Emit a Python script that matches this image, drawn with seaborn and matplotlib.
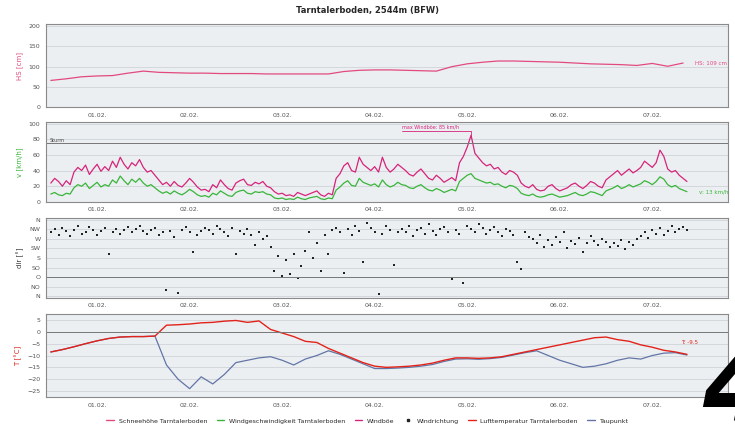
import pandas as pd
import matplotlib
matplotlib.use("Agg")
import matplotlib.pyplot as plt
import matplotlib.dates as mdates
from matplotlib.lines import Line2D
import seaborn as sns

# --- data ---
title = "Tarntalerboden, 2544m (BFW)"
x_start, x_end = "2013-01-31 10:45", "2013-02-07 19:40"

snow_start = "2013-01-31 12:00"   # every 4 h
snow_cm = [66, 70, 75, 77, 78, 84, 89, 86, 85, 84, 84, 83, 83, 83, 82, 82, 82, 82, 82, 88,
           91, 92, 92, 91, 90, 89, 100, 107, 111, 114, 114, 113, 112, 111, 109, 107, 106,
           105, 103, 108, 101, 109]

wind_start = "2013-01-31 12:00"   # hourly
gust_kmh = [24, 30, 26, 20, 27, 22,
            38, 44, 40, 47, 35, 42, 48, 39, 45, 40,
            52, 44, 57, 48, 42, 50, 46, 54,
            44, 38, 40, 34,
            28, 22, 25, 20, 26, 21, 19, 24, 30, 25,
            19, 15, 16, 13, 22, 18, 28, 22, 17, 15,
            24, 27, 29, 22, 21, 25, 23, 26, 20, 18,
            13, 10, 11, 8, 9, 7, 12, 10, 8, 10, 12, 14, 9, 7, 11, 9,
            30, 36, 46, 50, 40, 38, 57, 48, 44, 40,
            45, 38, 57, 44, 38, 42, 48, 44,
            40, 35, 33, 38, 42, 36, 30, 28,
            34, 30, 25, 28, 31, 27, 50, 58,
            70, 85, 62, 56, 50, 46,
            48, 42, 44, 38, 35, 40, 38, 34,
            24, 20, 18, 22, 16, 14, 15, 20, 22, 17, 14, 16,
            18, 22, 24, 20, 17, 21, 26, 24, 20, 18,
            28, 32, 36, 40, 34, 38, 42, 37, 40, 44,
            52, 48, 44, 50, 66, 58,
            42, 38, 40, 34, 30, 26]
wind_kmh = [10, 12, 9, 8, 11, 10,
            18, 22, 20, 24, 17, 21, 25, 19, 22, 20,
            28, 24, 33, 27, 22, 29, 25, 30,
            24, 20, 22, 18,
            14, 11, 13, 10, 14, 11, 9, 12, 16, 13,
            9, 7, 8, 6, 11, 9, 14, 11, 8, 7,
            12, 14, 15, 11, 10, 13, 12, 13, 10, 9,
            5, 4, 5, 3, 4, 3, 6, 4, 3, 5, 6, 7, 4, 3, 5, 4,
            15, 19, 24, 27, 21, 20, 30, 25, 23, 21,
            23, 19, 28, 22, 19, 21, 25, 22,
            21, 18, 17, 20, 22, 18, 15, 14,
            17, 15, 12, 14, 16, 14, 26, 30,
            34, 36, 30, 28, 26, 24,
            25, 22, 23, 20, 18, 21, 20, 17,
            11, 9, 8, 10, 7, 6, 7, 9, 10, 8, 6, 7,
            8, 10, 12, 9, 8, 10, 13, 12, 10, 8,
            14, 16, 18, 21, 17, 19, 22, 19, 21, 23,
            27, 25, 22, 26, 32, 29,
            22, 19, 21, 17, 15, 13]
dir_deg = [300, 315, 290, 320, 305, 285, 310, 330, 295, 300, 325, 310, 290, 305, 320, 200, 300, 315, 295, 310, 325,
           300, 315, 330, 305, 295, 310, 320, 290, 300, 30, 305, 280, 15, 310, 325, 300, 210, 290, 305, 320,
           310, 295, 330, 315, 300, 285, 320, 200, 305, 295, 315, 290, 240, 300, 270, 285, 230,
           120, 190, 95, 170, 105, 200, 85, 140, 215, 300, 180, 250, 120, 290, 200, 310,
           320, 300, 110, 315, 290, 330, 305, 160, 345, 320, 300, 10, 295, 330, 310, 145, 300,
           315, 300, 330, 285, 310, 320, 295, 340, 305, 290, 315, 325, 300, 80, 310, 295, 60,
           330, 315, 300, 340, 320, 295, 310, 325, 300, 285, 315, 305, 290, 160, 130, 300, 280,
           270, 250, 290, 230, 265, 240, 280, 255, 300, 225, 260, 245, 275, 210, 250, 285, 260, 240, 270, 255, 230,
           250, 235, 265, 220, 255, 240, 270, 285, 300, 275, 310, 295, 320, 290, 305, 330, 300, 315, 325, 310]
dir_labels = ["N", "NO", "O", "SO", "S", "SW", "W", "NW", "N"]

temp_start = "2013-01-31 12:00"   # every 3 h
air_temp = [-8.5, -7.5, -6.3, -5.0, -3.8, -2.8, -2.2, -2.0, -2.0, -1.8,
            2.8, 3.0, 3.3, 3.8, 4.0, 4.5, 4.8, 4.0, 4.6, 1.0,
            -0.5, -2.0, -4.0, -4.5, -7.0, -9.0, -11.0, -13.0, -14.5, -15.0,
            -14.8, -14.5, -14.0, -13.2, -12.0, -11.0, -11.0, -11.2, -11.0, -10.5,
            -9.5, -8.5, -7.5, -6.5, -5.5, -4.5, -3.5, -2.5, -2.2, -3.3,
            -4.0, -5.5, -6.5, -7.8, -8.5, -9.5]
dew_point = [-8.5, -7.5, -6.3, -5.0, -3.8, -2.8, -2.2, -2.0, -2.0, -1.8,
             -14.0, -20.0, -24.0, -19.0, -22.0, -18.0, -13.0, -12.0, -11.0, -10.5,
             -12.0, -14.0, -11.5, -10.0, -8.0, -9.5, -11.5, -13.5, -15.5, -15.5,
             -15.3, -15.0, -14.5, -13.8, -12.5, -11.5, -11.4, -11.6, -11.3, -10.8,
             -9.8, -8.8, -8.0, -10.0, -12.0, -13.5, -15.0, -14.5, -13.5, -12.0,
             -11.0, -11.5, -10.0, -9.0, -8.8, -9.8]

snow = pd.DataFrame({"time": pd.date_range(snow_start, periods=len(snow_cm), freq="4h"), "HS": snow_cm})
wind = pd.DataFrame({"time": pd.date_range(wind_start, periods=len(gust_kmh), freq="1h"),
                     "gust": gust_kmh, "mean": wind_kmh, "dir": dir_deg})
temp = pd.DataFrame({"time": pd.date_range(temp_start, periods=len(air_temp), freq="3h"),
                     "T": air_temp, "Td": dew_point})

c_snow, c_wind, c_gust, c_temp, c_dew = "#e24a7e", "#39b53a", "#d6247a", "#e2231a", "#6275a6"

sns.set_style("white")
plt.rcParams["font.family"] = ["DejaVu Sans"]

fig = plt.figure(figsize=(7.35, 4.25), dpi=100)
rects = [(0.0626, 0.748, 0.928, 0.195), (0.0626, 0.525, 0.928, 0.188),
         (0.0626, 0.299, 0.928, 0.188), (0.0626, 0.066, 0.928, 0.195)]
axes = [fig.add_axes(r) for r in rects]


def style(ax, ylabel, ycolor):
    ax.set_facecolor("#eceff2")
    for s in ax.spines.values():
        s.set_color("#8a8a8a")
        s.set_linewidth(0.8)
    ax.set_xlim(pd.Timestamp(x_start), pd.Timestamp(x_end))
    ax.xaxis.set_major_locator(mdates.DayLocator())
    ax.xaxis.set_major_formatter(mdates.DateFormatter("%d.%m."))
    ax.tick_params(labelsize=4.5, length=2, width=0.5, colors="#555555", pad=2)
    ax.set_xlabel("")
    ax.set_ylabel(ylabel, fontsize=5, color=ycolor, labelpad=4)
    ax.grid(axis="y", color="#d0d4d8", lw=0.6)


# snow height
ax = axes[0]
sns.lineplot(data=snow, x="time", y="HS", ax=ax, color=c_snow, lw=0.9)
ax.set_ylim(0, 205)
ax.set_yticks([0, 50, 100, 150, 200])
style(ax, "HS [cm]", c_snow)
ax.text(snow["time"].iloc[-1] + pd.Timedelta(hours=3), snow_cm[-1], "HS: %d cm" % snow_cm[-1],
        fontsize=4, color=c_snow, va="center")

# wind speed / gusts
ax = axes[1]
sns.lineplot(data=wind, x="time", y="gust", ax=ax, color=c_gust, lw=0.9)
sns.lineplot(data=wind, x="time", y="mean", ax=ax, color=c_wind, lw=0.9)
ax.set_ylim(0, 102)
ax.set_yticks([0, 20, 40, 60, 80, 100])
style(ax, "v [km/h]", c_wind)
ax.axhline(75, color="#777777", lw=0.7)
ax.text(pd.Timestamp(x_start) + pd.Timedelta(hours=1), 76, "Sturm", fontsize=3.5, color="#444444")
imax = wind["gust"].idxmax()
tmax = wind["time"][imax]
ax.plot([tmax - pd.Timedelta(hours=18), tmax, tmax], [91, 91, gust_kmh[imax]], color=c_gust, lw=0.6)
ax.text(tmax - pd.Timedelta(hours=18), 92, "max Windböe: %d km/h" % gust_kmh[imax],
        fontsize=3.5, color=c_gust, ha="left", va="bottom")
ax.text(wind["time"].iloc[-1] + pd.Timedelta(hours=3), wind_kmh[-1], "v: %d km/h" % wind_kmh[-1],
        fontsize=4, color=c_wind, va="center")

# wind direction
ax = axes[2]
sns.scatterplot(data=wind, x="time", y="dir", ax=ax, color="#222222", s=3, marker="s",
                linewidth=0)
ax.set_ylim(-8, 368)
ax.set_yticks(range(0, 361, 45))
ax.set_yticklabels(dir_labels)
style(ax, "dir [°]", "#333333")
ax.axhline(90, color="#777777", lw=0.7)

# temperature
ax = axes[3]
sns.lineplot(data=temp, x="time", y="Td", ax=ax, color=c_dew, lw=0.9)
sns.lineplot(data=temp, x="time", y="T", ax=ax, color=c_temp, lw=1.0)
ax.set_ylim(-27.5, 7.5)
ax.set_yticks([5, 0, -5, -10, -15, -20, -25])
style(ax, "T [°C]", c_temp)
ax.axhline(0, color="#777777", lw=0.7)
ax.text(temp["time"].iloc[-1] + pd.Timedelta(hours=3), air_temp[-1] + 5, "T: %.1f" % air_temp[-1],
        fontsize=4, color=c_temp, va="center", ha="right")

fig.suptitle(title, fontsize=6, fontweight="bold", y=0.985)

handles = [Line2D([], [], color=c_snow, lw=1), Line2D([], [], color=c_wind, lw=1),
           Line2D([], [], color=c_gust, lw=1),
           Line2D([], [], color="#222222", marker="s", ms=2, lw=0),
           Line2D([], [], color=c_temp, lw=1), Line2D([], [], color=c_dew, lw=1)]
labels = ["Schneehöhe Tarntalerboden", "Windgeschwindigkeit Tarntalerboden", "Windböe",
          "Windrichtung", "Lufttemperatur Tarntalerboden", "Taupunkt"]
fig.legend(handles, labels, loc="lower center", bbox_to_anchor=(0.5, -0.01), ncol=6,
           fontsize=4.5, frameon=False, handlelength=1.2, columnspacing=1.5)

# big black page marker in the lower right corner (cropped by the edge, as in the source)
fig.text(0.955, -0.04, "4", fontsize=74, fontweight="bold", style="italic", color="black",
         ha="left", va="bottom")

fig.savefig("out.png", dpi=100)
